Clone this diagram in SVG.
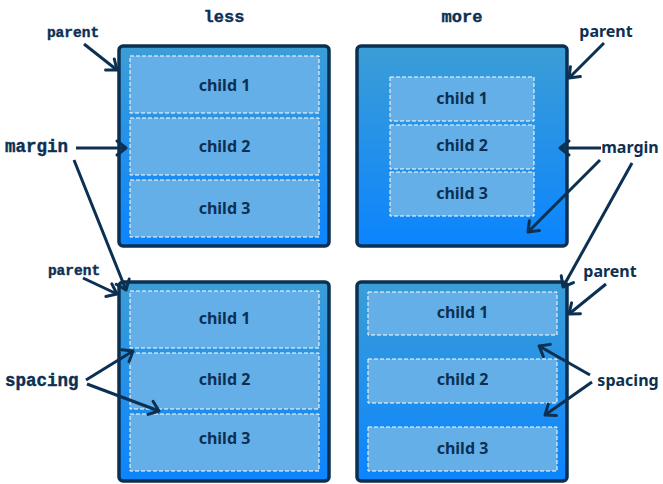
<svg xmlns="http://www.w3.org/2000/svg" width="663" height="484" viewBox="0 0 663 484">
<style>
.parent{stroke:#0c3052;stroke-width:3.5;fill:url(#grad)}
.child{fill:#65afe8;stroke:#ffffff;stroke-width:1;stroke-dasharray:4 2}
.ct{font-family:"Noto Sans","Open Sans",sans-serif;font-weight:700;font-size:16px;fill:#0c3052;text-anchor:middle}
.mono{font-family:"Liberation Mono","Courier New",monospace;font-weight:700;fill:#0c3052;stroke:#0c3052;stroke-width:0.4}
.sans{font-family:"Noto Sans","Open Sans",sans-serif;font-weight:700;font-size:16px;fill:#0c3052}
.arr{stroke:#0c3052;stroke-width:3;fill:none;marker-end:url(#ah)}
</style>
<defs>
<linearGradient id="grad" x1="0" y1="0" x2="0" y2="1">
<stop offset="0" stop-color="#3c9ed6"/>
<stop offset="1" stop-color="#0b84fe"/>
</linearGradient>
<marker id="ah" markerUnits="userSpaceOnUse" markerWidth="24" markerHeight="24" viewBox="-12 -12 24 24" refX="0" refY="0" orient="auto">
<path d="M-9,-7 L0,0 L-9,7" fill="none" stroke="#0c3052" stroke-width="3" stroke-linecap="round" stroke-linejoin="round"/>
</marker>
</defs>

<text class="mono" x="224" y="22" font-size="17" text-anchor="middle">less</text>
<text class="mono" x="462" y="22" font-size="17" text-anchor="middle">more</text>

<g id="box-less-margin">
<rect class="parent" x="119" y="46" width="210" height="200" rx="4"/>
<rect class="child" x="130" y="56" width="189" height="57"/>
<text class="ct" x="224.5" y="91">child 1</text>
<rect class="child" x="130" y="118" width="189" height="57"/>
<text class="ct" x="224.5" y="152">child 2</text>
<rect class="child" x="130" y="180" width="189" height="57"/>
<text class="ct" x="224.5" y="214">child 3</text>
</g>

<g id="box-more-margin">
<rect class="parent" x="357" y="46" width="210" height="200" rx="4"/>
<rect class="child" x="390" y="77" width="144" height="44"/>
<text class="ct" x="462" y="104">child 1</text>
<rect class="child" x="390" y="125" width="144" height="44"/>
<text class="ct" x="462" y="151">child 2</text>
<rect class="child" x="390" y="172" width="144" height="44"/>
<text class="ct" x="462" y="199">child 3</text>
</g>

<g id="box-less-spacing">
<rect class="parent" x="119" y="282" width="210" height="199" rx="4"/>
<rect class="child" x="130" y="291" width="189" height="57"/>
<text class="ct" x="224.5" y="324">child 1</text>
<rect class="child" x="130" y="353" width="189" height="56"/>
<text class="ct" x="224.5" y="385">child 2</text>
<rect class="child" x="130" y="414" width="189" height="57"/>
<text class="ct" x="224.5" y="444">child 3</text>
</g>

<g id="box-more-spacing">
<rect class="parent" x="357" y="282" width="210" height="199" rx="4"/>
<rect class="child" x="368" y="292" width="189" height="43"/>
<text class="ct" x="462.5" y="318">child 1</text>
<rect class="child" x="368" y="359" width="189" height="44"/>
<text class="ct" x="462.5" y="385">child 2</text>
<rect class="child" x="368" y="427" width="189" height="44"/>
<text class="ct" x="462.5" y="454">child 3</text>
</g>

<g id="labels">
<text class="mono" x="73" y="37" font-size="14.5" text-anchor="middle">parent</text>
<text class="mono" x="5" y="152" font-size="17.5">margin</text>
<text class="mono" x="74" y="275" font-size="14.5" text-anchor="middle">parent</text>
<text class="mono" x="5" y="386" font-size="17.5">spacing</text>
<text class="sans" x="606" y="37" text-anchor="middle">parent</text>
<text class="sans" x="630" y="153" text-anchor="middle">margin</text>
<text class="sans" x="610" y="277" text-anchor="middle">parent</text>
<text class="sans" x="628" y="386" text-anchor="middle">spacing</text>
</g>

<g id="connectors">
<line class="arr" x1="84" y1="44" x2="117" y2="70"/>
<line class="arr" x1="76" y1="148" x2="126" y2="148"/>
<line class="arr" x1="74" y1="160" x2="126" y2="290"/>
<line class="arr" x1="83" y1="278" x2="117" y2="294"/>
<line class="arr" x1="86" y1="380" x2="133" y2="351"/>
<line class="arr" x1="87" y1="384" x2="159" y2="411"/>
<line class="arr" x1="604" y1="43" x2="569" y2="78"/>
<line class="arr" x1="601" y1="148" x2="560" y2="148"/>
<line class="arr" x1="600" y1="160" x2="528" y2="232"/>
<line class="arr" x1="632" y1="163" x2="563" y2="287"/>
<line class="arr" x1="606" y1="284" x2="569" y2="314"/>
<line class="arr" x1="590" y1="375" x2="539" y2="346"/>
<line class="arr" x1="592" y1="382" x2="545" y2="415"/>
</g>
</svg>
